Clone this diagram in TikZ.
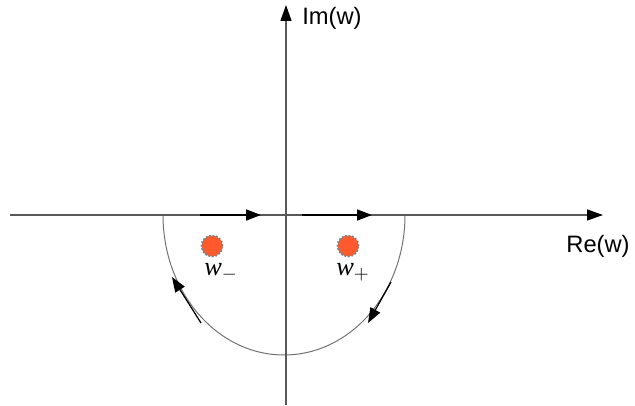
\documentclass[tikz,border=0pt]{standalone}
\usepackage{fontspec}
\setmainfont{Liberation Sans}
\newfontfamily\wfont{Liberation Serif}
\usetikzlibrary{arrows.meta}
\definecolor{polecol}{RGB}{255,90,45}
\tikzset{
  axis/.style={draw=black!65,line width=0.25mm,-{Triangle[length=3.2mm,width=2.2mm,color=black]}},
  flow/.style={draw=black,line width=0.35mm,-{Triangle[length=3mm,width=2.2mm]}},
  pole/.style={circle,fill=polecol,draw=black!50,densely dotted,line width=0.35mm,minimum size=4.2mm,inner sep=0pt},
  lbl/.style={inner sep=0pt,font=\fontsize{13.5}{15}\selectfont},
  wlbl/.style={inner sep=0pt,font=\fontsize{15}{17}\selectfont}
}
\begin{document}
\begin{tikzpicture}[x=0.2mm,y=-0.2mm]
\useasboundingbox (0,0) rectangle (635,405);
\coordinate (rl) at (10,215);
\coordinate (rr) at (603,215);
\coordinate (ib) at (286,405);
\coordinate (it) at (286,5);
\coordinate (al) at (163,215);
\draw[black!55,line width=0.2mm] (al) arc[start angle=180,end angle=0,x radius=121,y radius=140];
\draw[axis] (rl) -- (rr);
\draw[axis] (ib) -- (it);
\coordinate (fa) at (200,215);
\coordinate (fb) at (261,215);
\coordinate (fc) at (302,215);
\coordinate (fd) at (372,215);
\draw[flow] (fa) -- (fb);
\draw[flow] (fc) -- (fd);
\coordinate (la) at (201,323);
\coordinate (lb) at (172,277);
\coordinate (ra) at (391,282);
\coordinate (rb) at (368,323);
\draw[flow,line width=0.25mm] (la) -- (lb);
\draw[flow,line width=0.25mm] (ra) -- (rb);
\node[pole] (wm) at (212,246) {};
\node[pole] (wp) at (348,246) {};
\node[wlbl] (lm) at (221,272) {{\wfont\itshape w}$_{-}$};
\node[wlbl] (lp) at (353,272) {{\wfont\itshape w}$_{+}$};
\node[lbl,anchor=west] (im) at (302,18) {Im(w)};
\node[lbl] (re) at (598,246) {Re(w)};
\end{tikzpicture}
\end{document}
